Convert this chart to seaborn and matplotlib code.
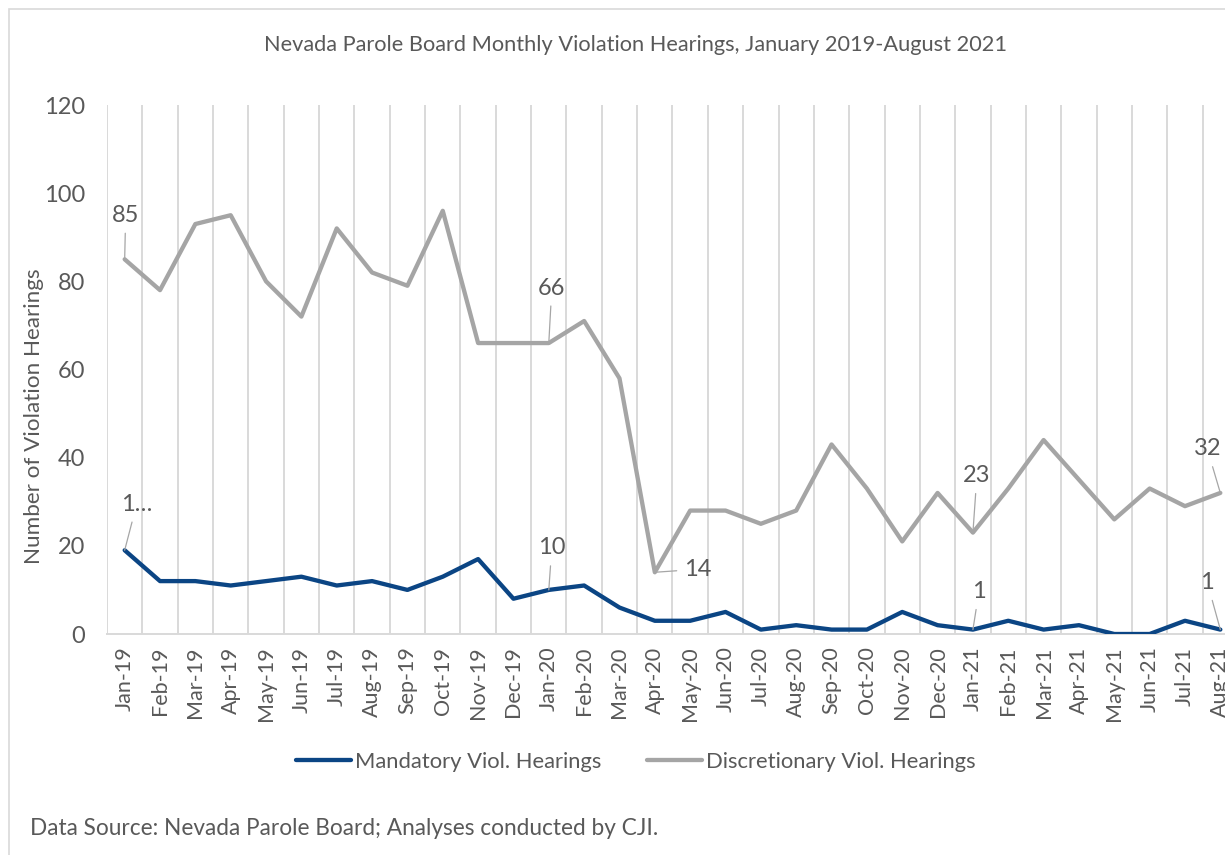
import matplotlib
matplotlib.use("Agg")
import matplotlib.pyplot as plt
import seaborn as sns
import pandas as pd
import numpy as np
from matplotlib.patches import Rectangle

months = ["Jan-19", "Feb-19", "Mar-19", "Apr-19", "May-19", "Jun-19", "Jul-19", "Aug-19",
          "Sep-19", "Oct-19", "Nov-19", "Dec-19", "Jan-20", "Feb-20", "Mar-20", "Apr-20",
          "May-20", "Jun-20", "Jul-20", "Aug-20", "Sep-20", "Oct-20", "Nov-20", "Dec-20",
          "Jan-21", "Feb-21", "Mar-21", "Apr-21", "May-21", "Jun-21", "Jul-21", "Aug-21"]
mandatory = [19, 12, 12, 11, 12, 13, 11, 12, 10, 13, 17, 8, 10, 11, 6, 3,
             3, 5, 1, 2, 1, 1, 5, 2, 1, 3, 1, 2, 0, 0, 3, 1]
discretionary = [85, 78, 93, 95, 80, 72, 92, 82, 79, 96, 66, 66, 66, 71, 58, 14,
                 28, 28, 25, 28, 43, 33, 21, 32, 23, 33, 44, 35, 26, 33, 29, 32]
series_names = ["Mandatory Viol. Hearings", "Discretionary Viol. Hearings"]
y_ticks = [0, 20, 40, 60, 80, 100, 120]

# labelled points: (series index, month index, text, offset px)
labels = [
    (1, 0, "85", (1, 44)),
    (0, 0, "1…", (12, 46)),
    (1, 12, "66", (3, 55)),
    (0, 12, "10", (3, 42)),
    (1, 15, "14", (43, 3)),
    (1, 24, "23", (4, 57)),
    (0, 24, "1", (6, 38)),
    (1, 31, "32", (-13, 44)),
    (0, 31, "1", (-13, 47)),
]

sns.set_theme(style="white")
plt.rcParams["font.family"] = ["Lato", "DejaVu Sans"]

TXT = "#595959"
GRID = "#d9d9d9"
colors = {series_names[0]: "#0b4584", series_names[1]: "#a5a5a5"}

df = pd.DataFrame({
    "idx": list(range(len(months))) * 2,
    "value": mandatory + discretionary,
    "series": [series_names[0]] * len(months) + [series_names[1]] * len(months),
})

fig = plt.figure(figsize=(12.25, 8.55), dpi=100)
W, H = 1225, 855
left, right, top, bottom = 107, 1238, 105, 634
ax = fig.add_axes([left / W, 1 - bottom / H, (right - left) / W, (bottom - top) / H])

sns.lineplot(data=df, x="idx", y="value", hue="series", palette=colors, ax=ax,
             linewidth=3.1, sort=False, legend=False, hue_order=series_names)
ax.lines[0].set_zorder(4)
ax.lines[1].set_zorder(3)

ax.set_xlim(-0.5, len(months) - 0.5)
ax.set_ylim(0, 120)
ax.set_yticks(y_ticks)
ax.set_yticklabels([str(v) for v in y_ticks], fontsize=17, color=TXT)
ax.set_xticks(range(len(months)))
ax.set_xticklabels(months, rotation=90, fontsize=15.5, color=TXT)
ax.set_xticks(np.arange(-0.5, len(months), 1.0), minor=True)
ax.tick_params(axis="x", which="major", length=0, pad=9)
ax.tick_params(axis="x", which="minor", length=6, width=1.2, color=GRID, direction="out")
ax.tick_params(axis="y", length=0, pad=16)
ax.grid(False)
ax.xaxis.grid(True, which="minor", color=GRID, linewidth=1.4)
for s in ["top", "right", "left"]:
    ax.spines[s].set_visible(False)
ax.spines["bottom"].set_color(GRID)
ax.spines["bottom"].set_linewidth(1.4)
ax.set_xlabel("")
ax.set_ylabel("Number of Violation Hearings", fontsize=16.2, color=TXT, va="center")
ax.yaxis.set_label_coords((34 - left) / (right - left), (bottom - 416.5) / (bottom - top))

series_vals = [mandatory, discretionary]
for si, mi, txt, (dx, dy) in labels:
    ax.annotate(txt, xy=(mi, series_vals[si][mi]), xytext=(dx * 0.72, dy * 0.72),
                textcoords="offset points", ha="center", va="center",
                fontsize=17, color=TXT,
                arrowprops=dict(arrowstyle="-", color="#a6a6a6", lw=0.9,
                                shrinkA=3, shrinkB=0), zorder=5)

fig.text(0.519, 1 - 45 / H, "Nevada Parole Board Monthly Violation Hearings, January 2019-August 2021",
         ha="center", va="center", fontsize=15.7, color=TXT)

handles = [plt.Line2D([], [], color=colors[n], linewidth=3.1) for n in series_names]
fig.legend(handles, series_names, loc="center", bbox_to_anchor=(0.519, 1 - 762 / H),
           ncol=2, frameon=False, fontsize=15.8, handlelength=2.5, handletextpad=0.2,
           columnspacing=2.05, labelcolor=TXT)

fig.text(30 / W, 1 - 828 / H, "Data Source: Nevada Parole Board; Analyses conducted by CJI.",
         ha="left", va="center", fontsize=16.3, color=TXT)

fig.patches.append(Rectangle((9 / W, -0.1), 1.2, 1 - 9 / H + 0.1, transform=fig.transFigure,
                             fill=False, edgecolor=GRID, linewidth=1.2))

fig.savefig("out.png", dpi=100, facecolor="white")
